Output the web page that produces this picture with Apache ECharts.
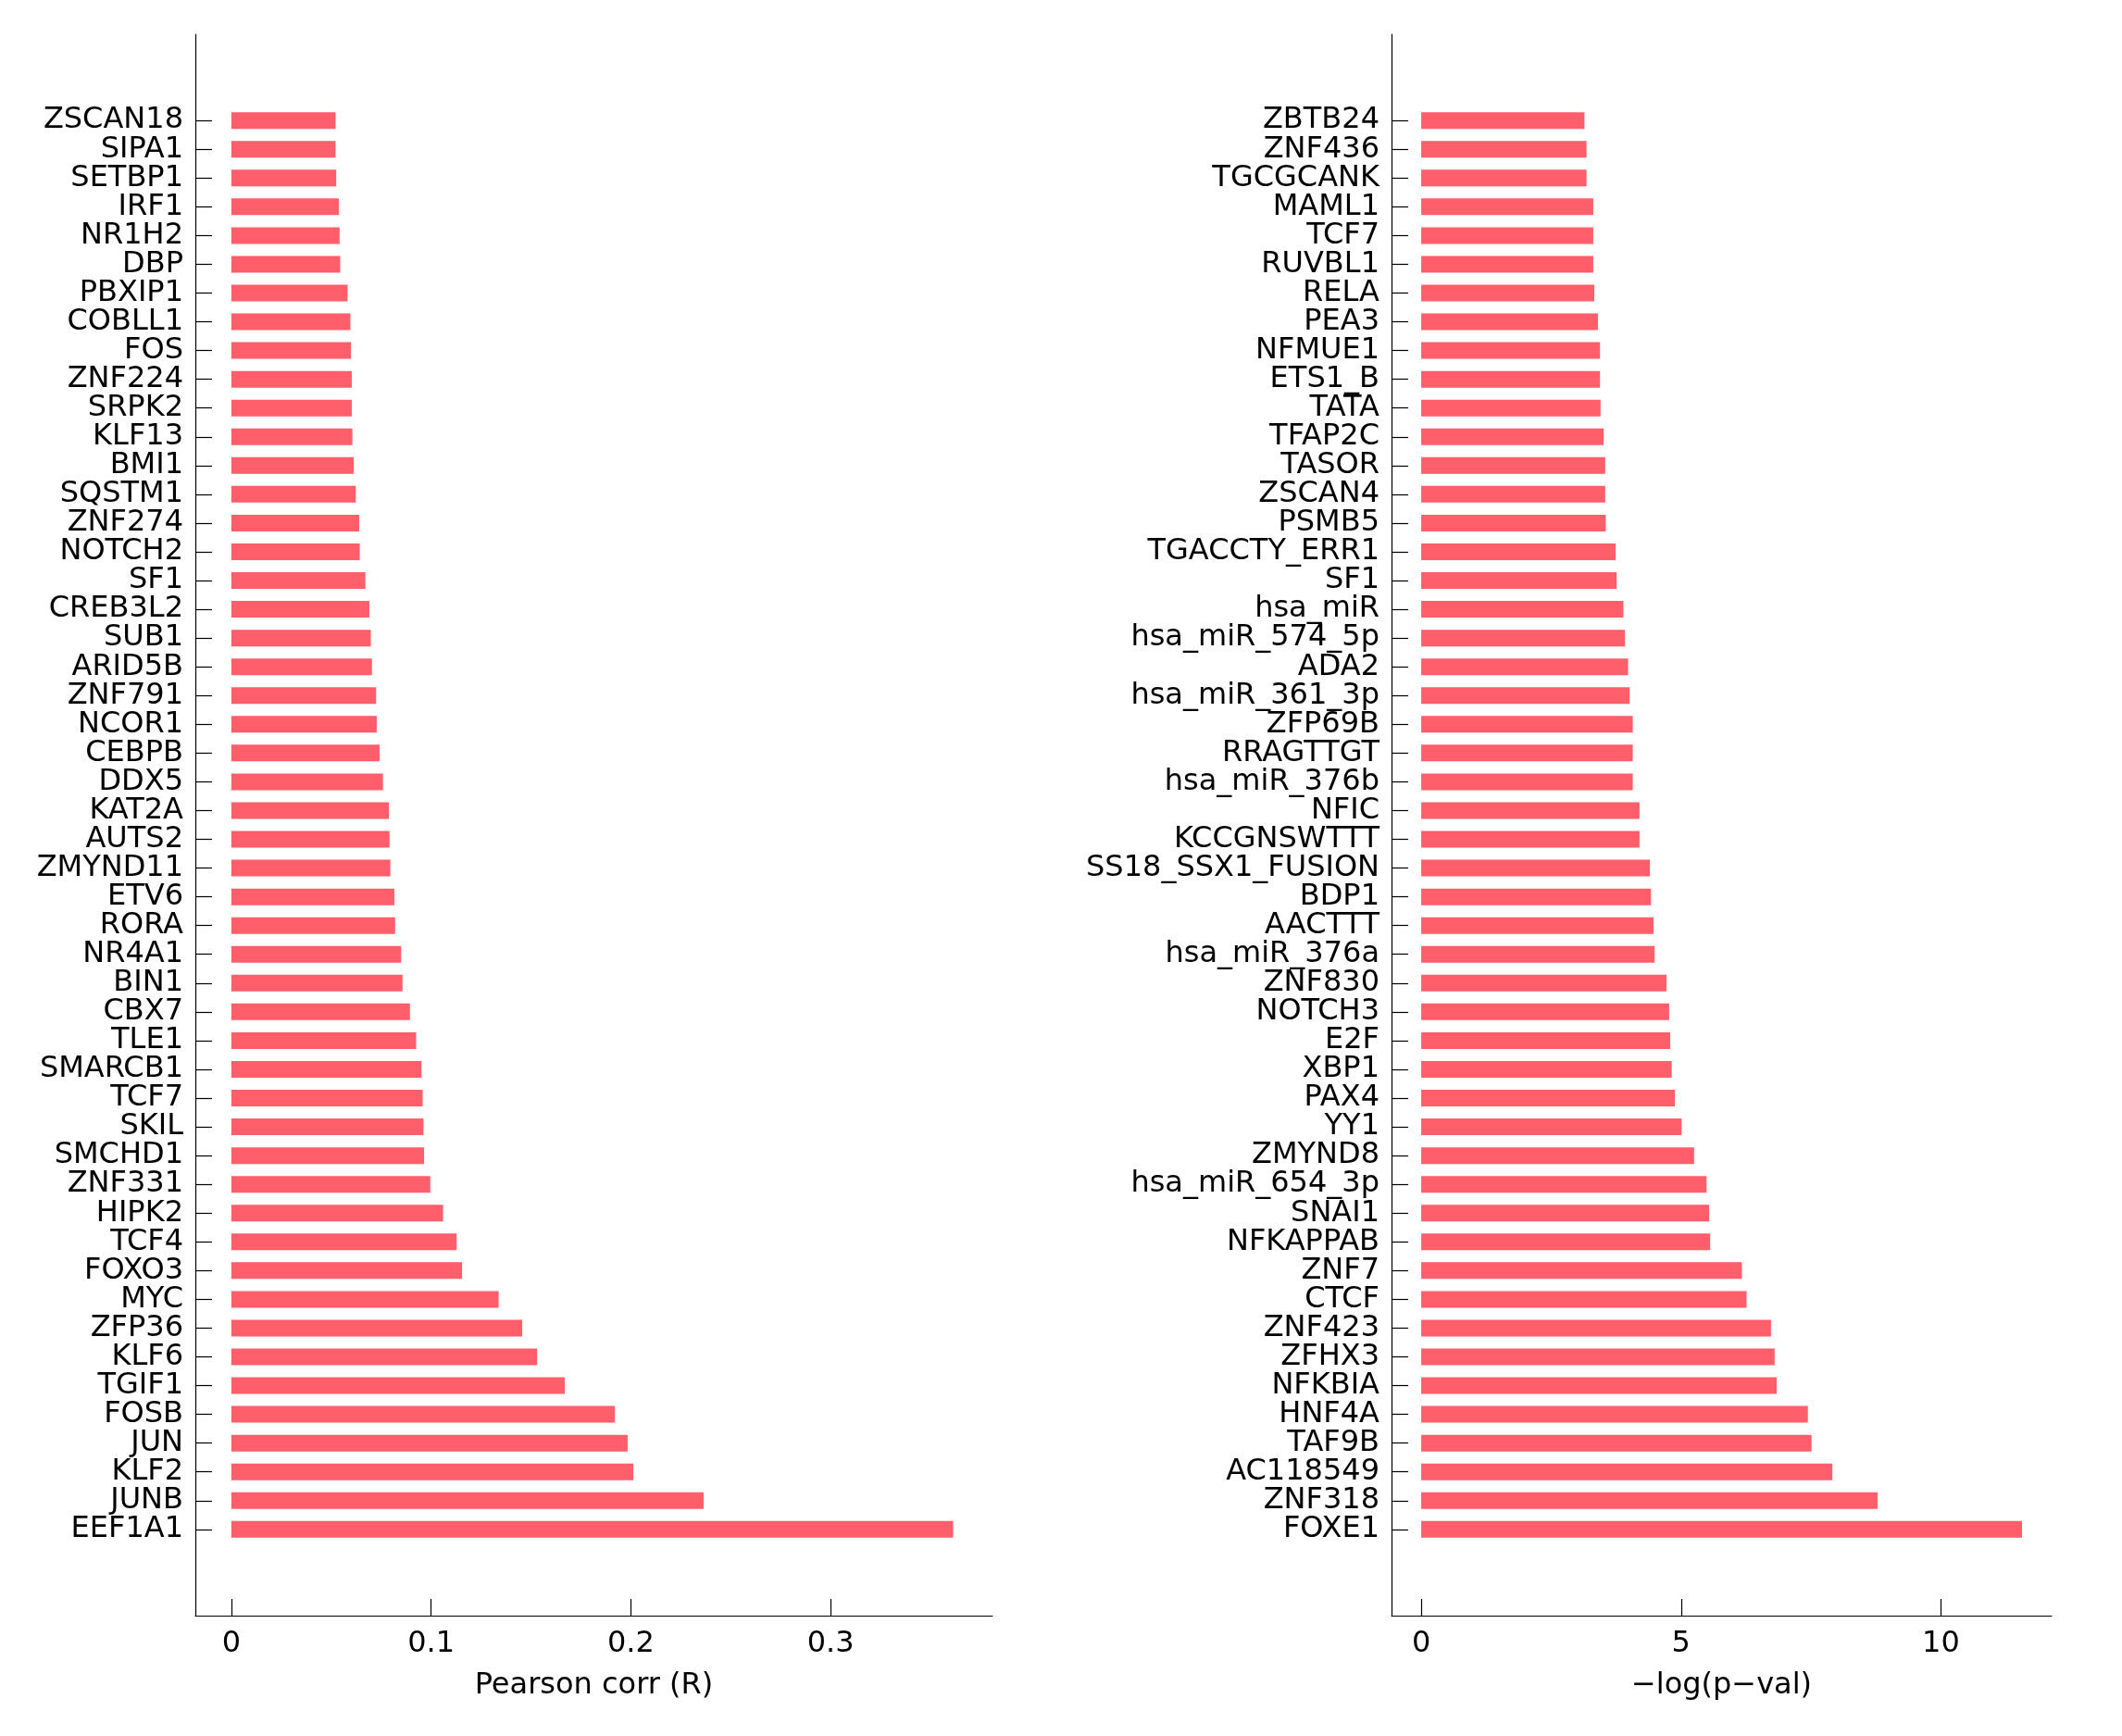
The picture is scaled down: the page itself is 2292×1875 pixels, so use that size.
<!DOCTYPE html>
<html>
<head>
<meta charset="utf-8">
<script src="https://cdn.jsdelivr.net/npm/echarts@6/dist/echarts.min.js"></script>
<style>
html,body{margin:0;padding:0;background:#fff;}
#chart{width:2292px;height:1875px;}
</style>
</head>
<body>
<div id="chart"></div>
<script>
// ---- data (top to bottom) ----
const leftNames = ['ZSCAN18','SIPA1','SETBP1','IRF1','NR1H2','DBP','PBXIP1','COBLL1','FOS','ZNF224','SRPK2','KLF13','BMI1','SQSTM1','ZNF274','NOTCH2','SF1','CREB3L2','SUB1','ARID5B','ZNF791','NCOR1','CEBPB','DDX5','KAT2A','AUTS2','ZMYND11','ETV6','RORA','NR4A1','BIN1','CBX7','TLE1','SMARCB1','TCF7','SKIL','SMCHD1','ZNF331','HIPK2','TCF4','FOXO3','MYC','ZFP36','KLF6','TGIF1','FOSB','JUN','KLF2','JUNB','EEF1A1'];
const leftValues = [0.0522,0.0522,0.0525,0.0538,0.0542,0.0545,0.0582,0.0596,0.0599,0.0603,0.0603,0.0606,0.0613,0.0623,0.0640,0.0643,0.0671,0.0691,0.0698,0.0704,0.0725,0.0728,0.0742,0.0759,0.0789,0.0792,0.0796,0.0816,0.0820,0.0850,0.0857,0.0894,0.0925,0.0952,0.0958,0.0962,0.0965,0.0996,0.1060,0.1128,0.1155,0.1338,0.1456,0.1531,0.1669,0.1920,0.1984,0.2012,0.2364,0.3613];
const rightNames = ['ZBTB24','ZNF436','TGCGCANK','MAML1','TCF7','RUVBL1','RELA','PEA3','NFMUE1','ETS1_B','TATA','TFAP2C','TASOR','ZSCAN4','PSMB5','TGACCTY_ERR1','SF1','hsa_miR','hsa_miR_574_5p','ADA2','hsa_miR_361_3p','ZFP69B','RRAGTTGT','hsa_miR_376b','NFIC','KCCGNSWTTT','SS18_SSX1_FUSION','BDP1','AACTTT','hsa_miR_376a','ZNF830','NOTCH3','E2F','XBP1','PAX4','YY1','ZMYND8','hsa_miR_654_3p','SNAI1','NFKAPPAB','ZNF7','CTCF','ZNF423','ZFHX3','NFKBIA','HNF4A','TAF9B','AC118549','ZNF318','FOXE1'];
const rightValues = [3.14,3.18,3.18,3.31,3.31,3.31,3.33,3.40,3.44,3.44,3.45,3.51,3.54,3.54,3.55,3.74,3.76,3.89,3.92,3.98,4.01,4.07,4.07,4.07,4.20,4.20,4.40,4.42,4.47,4.49,4.72,4.77,4.79,4.82,4.88,5.01,5.25,5.49,5.54,5.56,6.17,6.26,6.73,6.80,6.84,7.44,7.51,7.91,8.78,11.56];
const leftTicks = [0, 0.1, 0.2, 0.3];
const rightTicks = [0, 5, 10];
const leftTitle = 'Pearson corr (R)';
const rightTitle = '\u2212log(p\u2212val)';

// ---- helpers ----
const PAD = 3;
function pad(arr, fill){ const p = new Array(PAD).fill(fill); return p.concat(arr, p); }

const FONT = "'DejaVu Sans',sans-serif";
const FS = 32;
const BAR = 'rgb(255,94,106)';

function yAxisDef(idx, names){
  return {
    type:'category', gridIndex: idx, inverse:true, boundaryGap:false,
    data: pad(names, ''),
    axisLine:{show:true, onZero:false, lineStyle:{color:'#000', width:1.2}},
    axisTick:{show:true, inside:true, length:18, lineStyle:{color:'#000', width:1.2},
      interval: function(i, v){ return v !== ''; }},
    axisLabel:{interval:0, color:'#000', fontFamily:FONT, fontSize:FS, margin:13},
    splitLine:{show:false}
  };
}
function xAxisDef(idx, min, max, ticks, title){
  return {
    type:'value', gridIndex: idx, min:min, max:max,
    name:title, nameLocation:'middle', nameGap:60,
    nameTextStyle:{color:'#000', fontFamily:FONT, fontSize:FS},
    axisLine:{show:true, onZero:false, lineStyle:{color:'#000', width:1.2}},
    axisTick:{show:true, inside:true, length:18, customValues:ticks, lineStyle:{color:'#000', width:1.2}},
    axisLabel:{color:'#000', fontFamily:FONT, fontSize:FS, margin:15, customValues:ticks},
    splitLine:{show:false}
  };
}

const chart = echarts.init(document.getElementById('chart'), null, {renderer:'canvas'});
chart.setOption({
  backgroundColor:'#ffffff',
  animation:false,
  grid:[
    {left:211, top:37, width:861, height:1708, containLabel:false},
    {left:1503, top:37, width:713, height:1708, containLabel:false}
  ],
  xAxis:[ xAxisDef(0, -0.018, 0.381, leftTicks, leftTitle), xAxisDef(1, -0.572, 12.13, rightTicks, rightTitle) ],
  yAxis:[ yAxisDef(0, leftNames), yAxisDef(1, rightNames) ],
  series:[
    {type:'bar', xAxisIndex:0, yAxisIndex:0, data: pad(leftValues, null), barWidth:18, itemStyle:{color:BAR}},
    {type:'bar', xAxisIndex:1, yAxisIndex:1, data: pad(rightValues, null), barWidth:18, itemStyle:{color:BAR}}
  ]
});
</script>
</body>
</html>
